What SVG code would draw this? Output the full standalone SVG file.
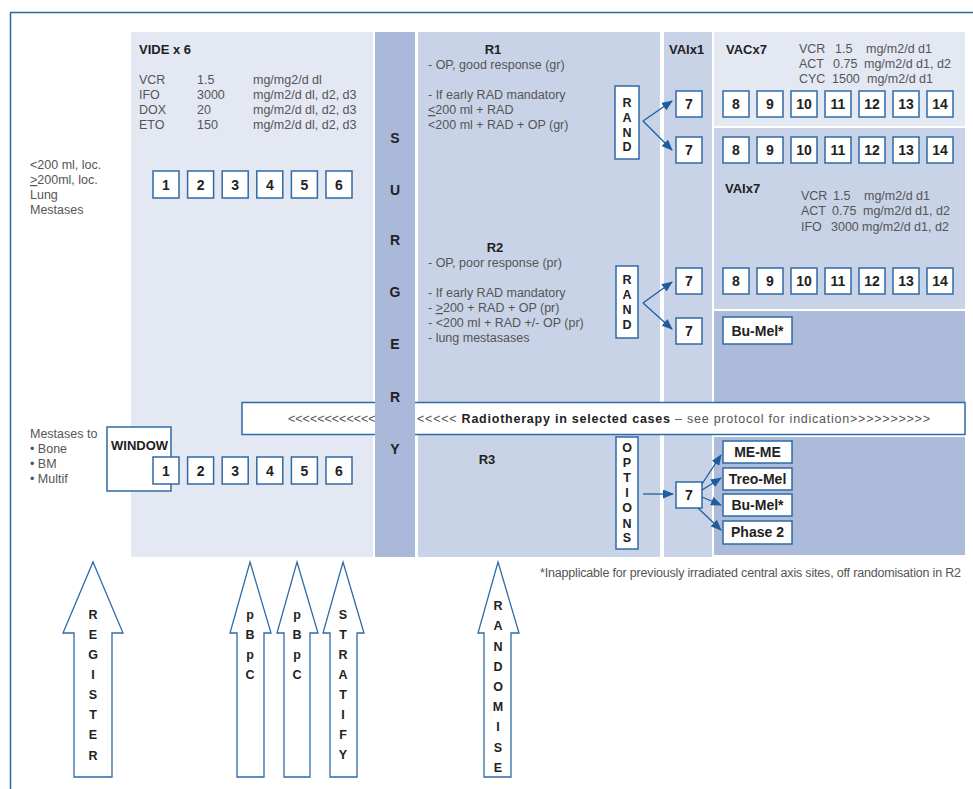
<svg xmlns="http://www.w3.org/2000/svg" width="973" height="789" viewBox="0 0 973 789">
<style>
text{font-family:"Liberation Sans",Arial,Helvetica,sans-serif}
.t{font-size:12.5px;fill:#555}
.h{font-size:13px;font-weight:bold;fill:#222}
.n{font-size:14px;font-weight:bold;fill:#222;text-anchor:middle}
.l{font-size:12.5px;font-weight:bold;fill:#222;text-anchor:middle}
.bx{fill:#fff;stroke:#2f6aa6;stroke-width:1.5}
.lt{fill:#e4e8f3}
.md{fill:#c8d3e7}
.dk{fill:#abbbd9}
.sg{fill:#aab9d9}
.ar{fill:#fff;stroke:#2f6aa6;stroke-width:1.3}
.c{fill:none;stroke:#1f5c9c;stroke-width:1.3;marker-end:url(#ah)}
</style>
<defs>
<marker id="ah" markerUnits="userSpaceOnUse" markerWidth="11" markerHeight="9" refX="10" refY="4.5" orient="auto">
<path d="M0,0 L11,4.5 L0,9 z" fill="#1f5c9c"/>
</marker>
</defs>
<rect width="973" height="789" fill="#fff"/>
<path d="M10.5,789 V12.5 H973" fill="none" stroke="#2f6aa6" stroke-width="1.5"/>

<g id="panels">
<rect class="lt" x="131" y="32" width="242" height="525"/>
<rect class="md" x="418" y="32" width="242" height="525"/>
<rect class="md" x="664" y="32" width="48" height="525"/>
<rect class="lt" x="714" y="32" width="251" height="94"/>
<rect class="md" x="714" y="128" width="251" height="181"/>
<rect class="dk" x="714" y="311" width="251" height="92"/>
<rect class="dk" x="714" y="437" width="251" height="118"/>
</g>

<g id="left-labels">
<text class="t" x="30" y="169">&lt;200 ml, loc.</text>
<text class="t" x="30" y="184"><tspan text-decoration="underline">&gt;</tspan>200ml, loc.</text>
<text class="t" x="30" y="199">Lung</text>
<text class="t" x="30" y="214">Mestases</text>
<text class="t" x="30" y="438">Mestases to</text>
<text class="t" x="30" y="453">• Bone</text>
<text class="t" x="30" y="468">• BM</text>
<text class="t" x="30" y="483">• Multif</text>
</g>

<g id="vide">
<text class="h" x="139" y="54">VIDE x 6</text>
<text class="t" x="139" y="84">VCR</text><text class="t" x="197" y="84">1.5</text><text class="t" x="253" y="84">mg/mg2/d dl</text>
<text class="t" x="139" y="99">IFO</text><text class="t" x="197" y="99">3000</text><text class="t" x="253" y="99">mg/m2/d dl, d2, d3</text>
<text class="t" x="139" y="114">DOX</text><text class="t" x="197" y="114">20</text><text class="t" x="253" y="114">mg/m2/d dl, d2, d3</text>
<text class="t" x="139" y="129">ETO</text><text class="t" x="197" y="129">150</text><text class="t" x="253" y="129">mg/m2/d dl, d2, d3</text>
</g>

<g id="vide-row1">
<rect class="bx" x="153" y="171" width="26" height="27"/><text class="n" x="166" y="190">1</text>
<rect class="bx" x="187.6" y="171" width="26" height="27"/><text class="n" x="200.6" y="190">2</text>
<rect class="bx" x="222.2" y="171" width="26" height="27"/><text class="n" x="235.2" y="190">3</text>
<rect class="bx" x="256.8" y="171" width="26" height="27"/><text class="n" x="269.8" y="190">4</text>
<rect class="bx" x="291.4" y="171" width="26" height="27"/><text class="n" x="304.4" y="190">5</text>
<rect class="bx" x="326" y="171" width="26" height="27"/><text class="n" x="339" y="190">6</text>
</g>

<g id="r1">
<text class="h" x="493" y="54" text-anchor="middle">R1</text>
<text class="t" x="428" y="69">- OP, good response (gr)</text>
<text class="t" x="428" y="99">- If early RAD mandatory</text>
<text class="t" x="428" y="114"><tspan text-decoration="underline">&lt;</tspan>200 ml + RAD</text>
<text class="t" x="428" y="129">&lt;200 ml + RAD + OP (gr)</text>
</g>
<g id="rand1">
<rect class="bx" x="615" y="86" width="24" height="73"/>
<text class="l" x="627" y="107">R</text><text class="l" x="627" y="122">A</text><text class="l" x="627" y="137">N</text><text class="l" x="627" y="151">D</text>
</g>

<g id="r2">
<text class="h" x="495" y="252" text-anchor="middle">R2</text>
<text class="t" x="428" y="267">- OP, poor response (pr)</text>
<text class="t" x="428" y="297">- If early RAD mandatory</text>
<text class="t" x="428" y="312">- <tspan text-decoration="underline">&gt;</tspan>200  + RAD + OP (pr)</text>
<text class="t" x="428" y="327">- &lt;200 ml + RAD +/- OP (pr)</text>
<text class="t" x="428" y="342">- lung mestasases</text>
</g>
<g id="rand2">
<rect class="bx" x="616" y="266" width="22" height="72"/>
<text class="l" x="627" y="284">R</text><text class="l" x="627" y="299">A</text><text class="l" x="627" y="314">N</text><text class="l" x="627" y="329">D</text>
</g>

<g id="vaix1">
<text class="h" x="669" y="54">VAIx1</text>
<rect class="bx" x="676" y="91" width="26" height="26"/><text class="n" x="689" y="109">7</text>
<rect class="bx" x="676" y="137" width="26" height="26"/><text class="n" x="689" y="155">7</text>
<rect class="bx" x="676" y="268" width="26" height="26"/><text class="n" x="689" y="286">7</text>
<rect class="bx" x="676" y="318" width="26" height="26"/><text class="n" x="689" y="336">7</text>
</g>

<g id="vacx7">
<text class="h" x="726" y="54">VACx7</text>
<text class="t" x="799" y="53">VCR</text><text class="t" x="835" y="53">1.5</text><text class="t" x="866" y="53">mg/m2/d d1</text>
<text class="t" x="799" y="68">ACT</text><text class="t" x="833" y="68">0.75</text><text class="t" x="864" y="68">mg/m2/d d1, d2</text>
<text class="t" x="799" y="83">CYC</text><text class="t" x="832" y="83">1500</text><text class="t" x="867" y="83">mg/m2/d d1</text>
<rect class="bx" x="723" y="91" width="26" height="26"/><text class="n" x="736" y="109">8</text>
<rect class="bx" x="757" y="91" width="26" height="26"/><text class="n" x="770" y="109">9</text>
<rect class="bx" x="791" y="91" width="26" height="26"/><text class="n" x="804" y="109">10</text>
<rect class="bx" x="825" y="91" width="26" height="26"/><text class="n" x="838" y="109">11</text>
<rect class="bx" x="859" y="91" width="26" height="26"/><text class="n" x="872" y="109">12</text>
<rect class="bx" x="893" y="91" width="26" height="26"/><text class="n" x="906" y="109">13</text>
<rect class="bx" x="927" y="91" width="26" height="26"/><text class="n" x="940" y="109">14</text>
</g>

<g id="row-r1b">
<rect class="bx" x="723" y="137" width="26" height="26"/><text class="n" x="736" y="155">8</text>
<rect class="bx" x="757" y="137" width="26" height="26"/><text class="n" x="770" y="155">9</text>
<rect class="bx" x="791" y="137" width="26" height="26"/><text class="n" x="804" y="155">10</text>
<rect class="bx" x="825" y="137" width="26" height="26"/><text class="n" x="838" y="155">11</text>
<rect class="bx" x="859" y="137" width="26" height="26"/><text class="n" x="872" y="155">12</text>
<rect class="bx" x="893" y="137" width="26" height="26"/><text class="n" x="906" y="155">13</text>
<rect class="bx" x="927" y="137" width="26" height="26"/><text class="n" x="940" y="155">14</text>
</g>

<g id="vaix7">
<text class="h" x="725" y="193">VAIx7</text>
<text class="t" x="801" y="200">VCR</text><text class="t" x="833" y="200">1.5</text><text class="t" x="864" y="200">mg/m2/d d1</text>
<text class="t" x="801" y="215">ACT</text><text class="t" x="832" y="215">0.75</text><text class="t" x="863" y="215">mg/m2/d d1, d2</text>
<text class="t" x="801" y="231">IFO</text><text class="t" x="831" y="231">3000</text><text class="t" x="862" y="231">mg/m2/d d1, d2</text>
<rect class="bx" x="723" y="268" width="26" height="26"/><text class="n" x="736" y="286">8</text>
<rect class="bx" x="757" y="268" width="26" height="26"/><text class="n" x="770" y="286">9</text>
<rect class="bx" x="791" y="268" width="26" height="26"/><text class="n" x="804" y="286">10</text>
<rect class="bx" x="825" y="268" width="26" height="26"/><text class="n" x="838" y="286">11</text>
<rect class="bx" x="859" y="268" width="26" height="26"/><text class="n" x="872" y="286">12</text>
<rect class="bx" x="893" y="268" width="26" height="26"/><text class="n" x="906" y="286">13</text>
<rect class="bx" x="927" y="268" width="26" height="26"/><text class="n" x="940" y="286">14</text>
</g>

<g id="bumel-r2">
<rect class="bx" x="723" y="317" width="69" height="27"/><text class="n" x="757.5" y="336">Bu-Mel*</text>
</g>

<g id="radiotherapy">
<rect x="242" y="402.5" width="723" height="32" fill="#fff" stroke="#2f6aa6" stroke-width="1.5"/>
<text class="t" x="288" y="423" font-size="13.5">&lt;&lt;&lt;&lt;&lt;&lt;&lt;&lt;&lt;&lt;&lt;&lt;</text>
<text class="t" x="417" y="423" font-size="14" textLength="513" lengthAdjust="spacing">&lt;&lt;&lt;&lt;&lt; <tspan font-weight="bold" fill="#222">Radiotherapy in selected cases</tspan> – see protocol for indication&gt;&gt;&gt;&gt;&gt;&gt;&gt;&gt;&gt;&gt;</text>
</g>

<g id="surgery">
<rect class="sg" x="375" y="32" width="40" height="525"/>
<text class="n" x="395" y="143">S</text>
<text class="n" x="395" y="195">U</text>
<text class="n" x="395" y="245">R</text>
<text class="n" x="395" y="297">G</text>
<text class="n" x="395" y="349">E</text>
<text class="n" x="395" y="402">R</text>
<text class="n" x="395" y="454">Y</text>
</g>

<g id="window">
<rect class="bx" x="107" y="427" width="64" height="64"/>
<text class="h" x="111" y="450">WINDOW</text>
</g>

<g id="vide-row2">
<rect class="bx" x="153" y="457" width="26" height="27"/><text class="n" x="166" y="476">1</text>
<rect class="bx" x="187.6" y="457" width="26" height="27"/><text class="n" x="200.6" y="476">2</text>
<rect class="bx" x="222.2" y="457" width="26" height="27"/><text class="n" x="235.2" y="476">3</text>
<rect class="bx" x="256.8" y="457" width="26" height="27"/><text class="n" x="269.8" y="476">4</text>
<rect class="bx" x="291.4" y="457" width="26" height="27"/><text class="n" x="304.4" y="476">5</text>
<rect class="bx" x="326" y="457" width="26" height="27"/><text class="n" x="339" y="476">6</text>
</g>

<g id="r3">
<text class="h" x="487" y="464" text-anchor="middle">R3</text>
</g>
<g id="options">
<rect class="bx" x="616" y="437" width="22" height="112"/>
<text class="l" x="627" y="452">O</text><text class="l" x="627" y="467">P</text><text class="l" x="627" y="482">T</text><text class="l" x="627" y="497">I</text><text class="l" x="627" y="512">O</text><text class="l" x="627" y="528">N</text><text class="l" x="627" y="542">S</text>
</g>
<g id="r3-seven">
<rect class="bx" x="676" y="482" width="26" height="26"/><text class="n" x="689" y="500">7</text>
</g>
<g id="r3-options">
<rect class="bx" x="723" y="441" width="69" height="22"/><text class="n" x="757.5" y="457" font-size="13">ME-ME</text>
<rect class="bx" x="723" y="468" width="69" height="22"/><text class="n" x="757.5" y="484" font-size="13">Treo-Mel</text>
<rect class="bx" x="723" y="494" width="69" height="22"/><text class="n" x="757.5" y="510" font-size="13">Bu-Mel*</text>
<rect class="bx" x="723" y="521" width="69" height="23"/><text class="n" x="757.5" y="537" font-size="13">Phase 2</text>
</g>

<g id="connectors">
<path class="c" d="M643,121 L672,101"/>
<path class="c" d="M643,121 L672,150"/>
<path class="c" d="M643,303 L672,282"/>
<path class="c" d="M643,303 L672,329"/>
<path class="c" d="M643,494 L673,494"/>
<path class="c" d="M702,484 L721,455"/>
<path class="c" d="M702,490 L721,478"/>
<path class="c" d="M702,497 L721,505"/>
<path class="c" d="M698,508 L721,530"/>
</g>

<text class="t" x="540" y="577" font-size="10.4" textLength="421" lengthAdjust="spacing">*Inapplicable for previously irradiated central axis sites, off randomisation in R2</text>

<g id="register">
<polygon class="ar" points="93,562 123,633 112,633 112,777 74,777 74,633 63,633"/>
<text class="l" x="93" y="619">R</text><text class="l" x="93" y="639">E</text><text class="l" x="93" y="659">G</text><text class="l" x="93" y="679">I</text><text class="l" x="93" y="699">S</text><text class="l" x="93" y="719">T</text><text class="l" x="93" y="739">E</text><text class="l" x="93" y="760">R</text>
</g>
<g id="pbpc1">
<polygon class="ar" points="250,562 271,633 264,633 264,777 237,777 237,633 230,633"/>
<text class="l" x="250" y="619">p</text><text class="l" x="250" y="639">B</text><text class="l" x="250" y="659">p</text><text class="l" x="250" y="679">C</text>
</g>
<g id="pbpc2">
<polygon class="ar" points="297,562 318,633 310,633 310,777 284,777 284,633 277,633"/>
<text class="l" x="297" y="619">p</text><text class="l" x="297" y="639">B</text><text class="l" x="297" y="659">p</text><text class="l" x="297" y="679">C</text>
</g>
<g id="stratify">
<polygon class="ar" points="343,562 364,633 357,633 357,777 330,777 330,633 323,633"/>
<text class="l" x="343" y="619">S</text><text class="l" x="343" y="639">T</text><text class="l" x="343" y="659">R</text><text class="l" x="343" y="679">A</text><text class="l" x="343" y="699">T</text><text class="l" x="343" y="719">I</text><text class="l" x="343" y="739">F</text><text class="l" x="343" y="759">Y</text>
</g>
<g id="randomise">
<polygon class="ar" points="498,562 519,633 511,633 511,777 484,777 484,633 478,633"/>
<text class="l" x="498" y="610">R</text><text class="l" x="498" y="630">A</text><text class="l" x="498" y="651">N</text><text class="l" x="498" y="671">D</text><text class="l" x="498" y="691">O</text><text class="l" x="498" y="711">M</text><text class="l" x="498" y="731">I</text><text class="l" x="498" y="752">S</text><text class="l" x="498" y="772">E</text>
</g>
</svg>
